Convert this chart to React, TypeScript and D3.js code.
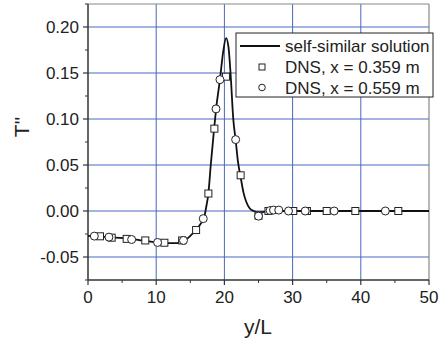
import React from "react";
import * as d3 from "d3";

const curveX = [0, 2, 4, 6, 8, 10, 12, 13, 14, 15, 16, 16.5, 17, 17.3, 17.65, 18.0, 18.5, 18.8, 19.35, 19.8, 20.25, 20.6, 20.9, 21.3, 21.65, 22.0, 22.4, 22.8, 23.2, 23.7, 24.3, 25, 26, 27, 50];
const curveY = [-0.027, -0.028, -0.029, -0.030, -0.032, -0.034, -0.035, -0.035, -0.033, -0.027, -0.019, -0.014, -0.008, 0.003, 0.019, 0.05, 0.09, 0.112, 0.143, 0.172, 0.188, 0.178, 0.15, 0.1, 0.077, 0.053, 0.036, 0.02, 0.01, 0.003, 0.0, -0.0015, -0.001, 0, 0];

const sqX = [1.76, 3.47, 5.67, 8.4, 11.2, 13.8, 15.85, 17.65, 18.53, 20.23, 22.38, 25.0, 26.46, 30.1, 32.1, 35.0, 39.2, 45.5];
const sqY = [-0.0275, -0.029, -0.0303, -0.032, -0.0345, -0.032, -0.0207, 0.019, 0.0895, 0.146, 0.0388, -0.005, 0.0, 0.0, 0.0, 0.0, 0.0, 0.0];

const ciX = [0.93, 3.07, 6.4, 10.2, 14.0, 16.9, 18.77, 19.35, 21.65, 25.0, 26.7, 27.2, 27.97, 29.4, 31.85, 36.1, 43.6];
const ciY = [-0.0273, -0.0284, -0.031, -0.0342, -0.032, -0.0083, 0.111, 0.1428, 0.0776, -0.0056, 0.0005, 0.001, 0.001, 0.0, 0.0, 0.0, 0.0];

const xTicks = [0, 10, 20, 30, 40, 50];
const xMinor = [5, 15, 25, 35, 45];
const yTicks = [-0.05, 0, 0.05, 0.1, 0.15, 0.2];
const yTickLabels = ["-0.05", "0.00", "0.05", "0.10", "0.15", "0.20"];
const yMinor = [-0.075, -0.025, 0.025, 0.075, 0.125, 0.175, 0.225];

const legendLabels = ["self-similar solution", "DNS, x = 0.359 m", "DNS, x = 0.559 m"];

const L = 88, R = 429, T = 4, B = 280;
const FONT = "Liberation Sans, Arial, sans-serif";
const GRID = "#4a66c0";

export default function App() {
  const x = d3.scaleLinear().domain([0, 50]).range([L, R]);
  const y = d3.scaleLinear().domain([-0.075, 0.225]).range([B, T]);
  const line = d3
    .line<number>()
    .x((_, i) => x(curveX[i]))
    .y((d) => y(d))
    .curve(d3.curveMonotoneX);
  const sq = 7;
  return (
    <svg width={440} height={344} style={{ position: "absolute", left: 0, top: 0, background: "#fff" }} fontFamily={FONT}>
      {xTicks.filter((t) => t > 0 && t < 50).map((t) => (
        <line key={"gx" + t} x1={x(t)} x2={x(t)} y1={T} y2={B} stroke={GRID} strokeWidth={1} />
      ))}
      {yTicks.map((t) => (
        <line key={"gy" + t} x1={L} x2={R} y1={y(t)} y2={y(t)} stroke={GRID} strokeWidth={1} />
      ))}
      <line x1={L} x2={R} y1={T} y2={T} stroke="#888" strokeWidth={1.2} />
      <line x1={R} x2={R} y1={T} y2={B} stroke="#888" strokeWidth={1.2} />
      <line x1={L} x2={L} y1={T} y2={B} stroke="#333" strokeWidth={1.5} />
      <line x1={L} x2={R} y1={B} y2={B} stroke="#333" strokeWidth={1.5} />
      {xTicks.map((t) => (
        <g key={"xt" + t}>
          <line x1={x(t)} x2={x(t)} y1={B} y2={B + 5} stroke="#333" strokeWidth={1.2} />
          <text x={x(t)} y={303} fontSize={17} textAnchor="middle" fill="#222">{t}</text>
        </g>
      ))}
      {xMinor.map((t) => (
        <line key={"xm" + t} x1={x(t)} x2={x(t)} y1={B} y2={B + 3} stroke="#333" strokeWidth={1} />
      ))}
      {yTicks.map((t, i) => (
        <g key={"yt" + t}>
          <line x1={L - 5} x2={L} y1={y(t)} y2={y(t)} stroke="#333" strokeWidth={1.2} />
          <text x={79} y={y(t) + 6} fontSize={17} textAnchor="end" fill="#222">{yTickLabels[i]}</text>
        </g>
      ))}
      {yMinor.map((t) => (
        <line key={"ym" + t} x1={L - 3} x2={L} y1={y(t)} y2={y(t)} stroke="#333" strokeWidth={1} />
      ))}
      <path d={line(curveY) || ""} fill="none" stroke="#111" strokeWidth={1.8} />
      {sqX.map((v, i) => (
        <rect key={"s" + i} x={x(v) - sq / 2} y={y(sqY[i]) - sq / 2} width={sq} height={sq} fill="#fff" stroke="#222" strokeWidth={1} />
      ))}
      {ciX.map((v, i) => (
        <circle key={"c" + i} cx={x(v)} cy={y(ciY[i])} r={4} fill="#fff" stroke="#222" strokeWidth={1} />
      ))}
      <rect x={236} y={33} width={197} height={64} fill="#fff" stroke="#222" strokeWidth={1} />
      <line x1={240} x2={280} y1={46} y2={46} stroke="#111" strokeWidth={1.8} />
      <rect x={259} y={64} width={6} height={6} fill="#fff" stroke="#222" strokeWidth={1} />
      <circle cx={262} cy={87.5} r={3.3} fill="#fff" stroke="#222" strokeWidth={1} />
      {legendLabels.map((s, i) => (
        <text key={"l" + i} x={285} y={52 + i * 20.8} fontSize={17} fill="#222">{s}</text>
      ))}
      <text x={258} y={334} fontSize={21} textAnchor="middle" fill="#222">y/L</text>
      <text transform={`translate(29,127) rotate(-90)`} fontSize={21} textAnchor="middle" fill="#222">T"</text>
    </svg>
  );
}
